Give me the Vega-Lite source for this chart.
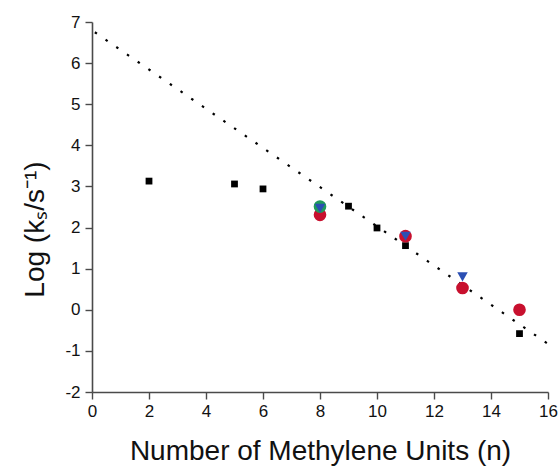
{
  "$schema": "https://vega.github.io/schema/vega-lite/v6.json",
  "width": 456,
  "height": 370,
  "autosize": {"type": "none"},
  "padding": {"left": 92, "top": 22, "right": 11, "bottom": 75},
  "background": "white",
  "config": {
    "view": {"stroke": null},
    "font": "Liberation Sans",
    "axis": {
      "grid": false,
      "domainColor": "#4a4a4a",
      "domainWidth": 1.6,
      "tickColor": "#4a4a4a",
      "tickWidth": 1.4,
      "labelFont": "Liberation Sans",
      "labelFontSize": 17,
      "labelColor": "#111111",
      "titleFont": "Liberation Sans",
      "titleFontSize": 28,
      "titleFontWeight": "normal",
      "titleColor": "#111111"
    }
  },
  "datasets": {
    "points": [
      {"n": 2, "logk": 3.13, "series": "A"},
      {"n": 5, "logk": 3.06, "series": "A"},
      {"n": 6, "logk": 2.94, "series": "A"},
      {"n": 9, "logk": 2.52, "series": "A"},
      {"n": 10, "logk": 1.99, "series": "A"},
      {"n": 11, "logk": 1.56, "series": "A"},
      {"n": 15, "logk": -0.58, "series": "A"},
      {"n": 8, "logk": 2.31, "series": "B"},
      {"n": 11, "logk": 1.79, "series": "B"},
      {"n": 13, "logk": 0.53, "series": "B"},
      {"n": 15, "logk": 0.0, "series": "B"},
      {"n": 8, "logk": 2.51, "series": "C"},
      {"n": 8, "logk": 2.47, "series": "D"},
      {"n": 11, "logk": 1.79, "series": "D"},
      {"n": 13, "logk": 0.8, "series": "D"}
    ],
    "fit": [
      {"n": 0.1, "logk": 6.75},
      {"n": 16, "logk": -0.83}
    ]
  },
  "layer": [
    {
      "data": {"name": "fit"},
      "mark": {"type": "line", "color": "black", "strokeWidth": 2.2, "strokeDash": [2.5, 10.5], "clip": true},
      "encoding": {
        "x": {
          "field": "n", "type": "quantitative",
          "scale": {"domain": [0, 16], "nice": false, "zero": false},
          "axis": {
            "title": "Number of Methylene Units (n)",
            "values": [0,1,2,3,4,5,6,7,8,9,10,11,12,13,14,15,16],
            "labelExpr": "datum.value % 2 == 0 ? datum.label : ''",
            "tickSize": {"condition": {"test": "datum.value % 2 == 0", "value": 7}, "value": 3},
            "labelPadding": 4,
            "labelFlush": false,
            "labelOverlap": false,
            "titleX": 228,
            "titleY": 67,
            "titleAnchor": null,
            "titleAlign": "center",
            "titleBaseline": "alphabetic"
          }
        },
        "y": {
          "field": "logk", "type": "quantitative",
          "scale": {"domain": [-2, 7], "nice": false, "zero": false},
          "axis": {
            "title": "Log (kₛ/s⁻¹)",
            "values": [-2,-1.5,-1,-0.5,0,0.5,1,1.5,2,2.5,3,3.5,4,4.5,5,5.5,6,6.5,7],
            "labelExpr": "datum.value % 1 == 0 ? replace(datum.label, '−', '-') : ''",
            "tickSize": {"condition": {"test": "datum.value % 1 == 0", "value": 7}, "value": 3},
            "labelPadding": 5,
            "labelFlush": false,
            "labelOverlap": false,
            "titleX": -49,
            "titleY": 207,
            "titleAngle": -90,
            "titleAlign": "center",
            "titleBaseline": "alphabetic"
          }
        }
      }
    },
    {
      "data": {"name": "points"},
      "mark": {"type": "point", "filled": true, "opacity": 1, "strokeWidth": 0},
      "encoding": {
        "x": {"field": "n", "type": "quantitative"},
        "y": {"field": "logk", "type": "quantitative"},
        "shape": {
          "field": "series", "type": "nominal", "legend": null,
          "scale": {"domain": ["A","B","C","D"], "range": ["square","circle","circle","triangle-down"]}
        },
        "color": {
          "field": "series", "type": "nominal", "legend": null,
          "scale": {"domain": ["A","B","C","D"], "range": ["#000000","#c8102e","#1f9a5c","#2b4fb3"]}
        },
        "size": {
          "field": "series", "type": "nominal", "legend": null,
          "scale": {"type": "ordinal", "domain": ["A","B","C","D"], "range": [46, 160, 160, 110]}
        }
      }
    }
  ]
}
